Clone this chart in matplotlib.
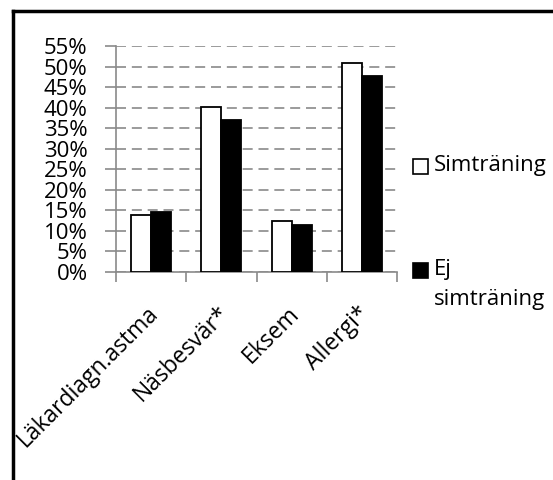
import numpy as np
import matplotlib.pyplot as plt
from matplotlib.lines import Line2D
from matplotlib.patches import Rectangle
from matplotlib.ticker import FuncFormatter, MultipleLocator

categories = ['Läkardiagn.astma', 'Näsbesvär*', 'Eksem', 'Allergi*']
simtraning = [13.9, 40.1, 12.4, 50.8]
ej_simtraning = [14.7, 37.1, 11.4, 47.6]
series_names = ['Simträning', 'Ej\nsimträning']

plt.rcParams['font.family'] = ['Open Sans', 'DejaVu Sans']

fig = plt.figure(figsize=(5.53, 4.8), dpi=100)
ax = fig.add_axes([116 / 553, 1 - 272 / 480, 281 / 553, 226 / 480])

x = np.arange(len(categories))
w = 0.285
ax.bar(x - w / 2, simtraning, w, color='white', edgecolor='black', linewidth=1.3, zorder=3)
ax.bar(x + w / 2, ej_simtraning, w, color='black', edgecolor='black', linewidth=1.3, zorder=3)

ax.set_xlim(-0.5, len(categories) - 0.5)
ax.set_ylim(0, 55)
ax.yaxis.set_major_locator(MultipleLocator(5))
ax.yaxis.set_major_formatter(FuncFormatter(lambda v, p: f'{v:.0f}%'))
ax.yaxis.grid(True, color='#8a8a8a', linestyle=(0, (6, 3.5)), linewidth=1.2, zorder=0)

for s in ['top', 'right']:
    ax.spines[s].set_visible(False)
for s in ['left', 'bottom']:
    ax.spines[s].set_color('#8a8a8a')
    ax.spines[s].set_linewidth(1.2)

ax.tick_params(axis='y', direction='out', length=8, width=1.2, color='#8a8a8a',
               labelsize=16, pad=12.5)
ax.set_xticks(np.arange(len(categories) + 1) - 0.5)
ax.set_xticklabels([])
ax.tick_params(axis='x', direction='out', length=7, width=1.2, color='#8a8a8a')

for i, c in enumerate(categories):
    ax.annotate(c, xy=(i, 0), xycoords=('data', 'axes fraction'),
                xytext=(4, -38), textcoords='offset pixels',
                rotation=45, rotation_mode='anchor', ha='right', va='center',
                fontsize=16.5)

# legend drawn by hand so the swatch sits on the first line
fig.add_artist(Rectangle((413 / 553, 1 - 174 / 480), 15 / 553, 15 / 480,
                         transform=fig.transFigure, facecolor='white',
                         edgecolor='black', linewidth=1.2))
fig.text(434 / 553, 1 - 166 / 480, series_names[0], fontsize=16, va='center', ha='left')
fig.add_artist(Rectangle((413 / 553, 1 - 278 / 480), 15 / 553, 15 / 480,
                         transform=fig.transFigure, facecolor='black',
                         edgecolor='black', linewidth=1.2))
fig.text(434 / 553, 1 - 259 / 480, series_names[1], fontsize=16, va='top', ha='left',
         linespacing=1.55)

# outer frame (left and top edges visible)
fig.add_artist(Line2D([13 / 553, 13 / 553], [0, 1 - 11 / 480], transform=fig.transFigure,
                      color='black', linewidth=2.5))
fig.add_artist(Line2D([13 / 553, 1], [1 - 11 / 480, 1 - 11 / 480], transform=fig.transFigure,
                      color='black', linewidth=2.5))

fig.savefig('out.png', dpi=100)
